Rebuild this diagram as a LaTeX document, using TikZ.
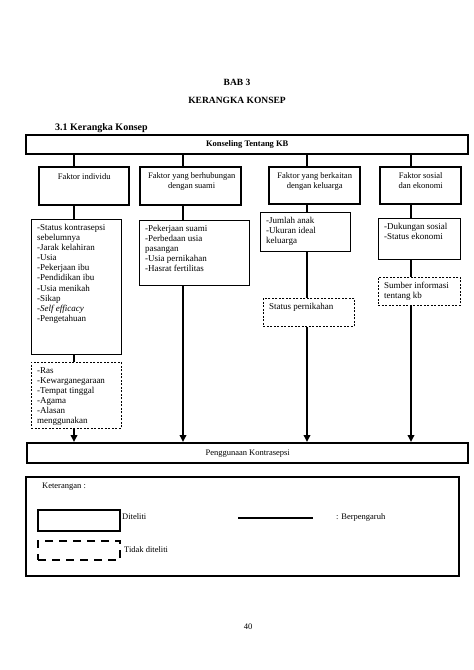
\documentclass[tikz,border=0pt]{standalone}
\usepackage{fontspec}
\setmainfont{Liberation Serif}
\usetikzlibrary{calc,arrows.meta}
\begin{document}
\begin{tikzpicture}[x=1pt,y=-1pt,
  thickbox/.style={draw, line width=2.4pt, inner sep=0pt, anchor=north west},
  listbox/.style={draw, line width=0.8pt, inner sep=0pt, anchor=north west},
  dashbox/.style={draw, line width=0.8pt, dash pattern=on 2pt off 1.5pt, inner sep=0pt, anchor=north west},
  legdash/.style={draw, line width=2.4pt, dash pattern=on 8pt off 6pt, inner sep=0pt, anchor=north west},
  txt/.style={inner sep=0pt, align=left, anchor=north west, font=\fontsize{9}{10.1}\selectfont},
  ctxt/.style={inner sep=0pt, align=center, anchor=north, font=\fontsize{8.5}{10.5}\selectfont},
  plain/.style={inner sep=0pt, font=\fontsize{8.5}{10}\selectfont},
  link/.style={line width=2.4pt},
  arr/.style={line width=2pt, -{Triangle[length=7pt,width=6.5pt]}},
]
\useasboundingbox (0,0) rectangle (474,670);

% headings
\node[inner sep=0pt, font=\fontsize{9.5}{11}\selectfont\bfseries] (bab) at (237,82) {BAB 3};
\node[inner sep=0pt, font=\fontsize{9.5}{11}\selectfont\bfseries] (kk) at (237,100) {KERANGKA KONSEP};
\node[inner sep=0pt, anchor=west, font=\fontsize{10}{12}\selectfont\bfseries] (sub) at (55,128) {3.1 Kerangka Konsep};

% top box
\node[thickbox, minimum width=442pt, minimum height=19pt] (top) at (25,134) {};
\node[inner sep=0pt, font=\fontsize{8.5}{10}\selectfont\bfseries] (topt) at (top.center) {Konseling Tentang KB};

% factor boxes
\node[thickbox, minimum width=90pt, minimum height=38pt] (f1) at (38,166) {};
\node[thickbox, minimum width=101pt, minimum height=38pt] (f2) at (139,166) {};
\node[thickbox, minimum width=91pt, minimum height=37pt] (f3) at (268,166) {};
\node[thickbox, minimum width=81pt, minimum height=37pt] (f4) at (379,166) {};
\node[ctxt] (f1t) at ($(f1.north)+(0pt,-7pt)$) {Faktor individu};
\node[ctxt] (f2t) at ($(f2.north)+(1pt,-6pt)$) {Faktor yang berhubungan\\dengan suami};
\node[ctxt] (f3t) at ($(f3.north)+(0pt,-6pt)$) {Faktor yang berkaitan\\dengan keluarga};
\node[ctxt] (f4t) at ($(f4.north)+(0pt,-6pt)$) {Faktor sosial\\dan ekonomi};

% list boxes
\node[listbox, minimum width=90pt, minimum height=135pt] (l1) at (31,219) {};
\node[listbox, minimum width=110pt, minimum height=65pt] (l2) at (139,220) {};
\node[listbox, minimum width=90pt, minimum height=39pt] (l3) at (260,212) {};
\node[listbox, minimum width=82pt, minimum height=41pt] (l4) at (378,218) {};
\node[txt] (l1t) at ($(l1.north west)+(6pt,-5pt)$) {-Status kontrasepsi\\sebelumnya\\-Jarak kelahiran\\-Usia\\-Pekerjaan ibu\\-Pendidikan ibu\\-Usia menikah\\-Sikap\\\textit{-Self efficacy}\\-Pengetahuan};
\node[txt] (l2t) at ($(l2.north west)+(6pt,-5pt)$) {-Pekerjaan suami\\-Perbedaan usia\\pasangan\\-Usia pernikahan\\-Hasrat fertilitas};
\node[txt] (l3t) at ($(l3.north west)+(6pt,-5pt)$) {-Jumlah anak\\-Ukuran ideal\\keluarga};
\node[txt] (l4t) at ($(l4.north west)+(6pt,-5pt)$) {-Dukungan sosial\\-Status ekonomi};

% dashed boxes
\node[dashbox, minimum width=90pt, minimum height=66pt] (d1) at (31,362) {};
\node[dashbox, minimum width=91pt, minimum height=28pt] (d3) at (263,298) {};
\node[dashbox, minimum width=82pt, minimum height=28pt] (d4) at (378,277) {};
\node[txt] (d1t) at ($(d1.north west)+(6pt,-5pt)$) {-Ras\\-Kewarganegaraan\\-Tempat tinggal\\-Agama\\-Alasan\\menggunakan};
\node[txt] (d3t) at ($(d3.north west)+(6pt,-5pt)$) {Status pernikahan};
\node[txt] (d4t) at ($(d4.north west)+(6pt,-5pt)$) {Sumber informasi\\tentang kb};

% bottom box
\node[thickbox, minimum width=441pt, minimum height=20pt] (bot) at (26,442) {};
\node[inner sep=0pt, font=\fontsize{8.5}{10}\selectfont] (bott) at (bot.center) {Penggunaan Kontrasepsi};

% column coordinates
\coordinate (c1) at (74,0);
\coordinate (c2) at (183,0);
\coordinate (c3) at (307,0);
\coordinate (c4) at (411,0);

% connectors
\draw[link] (top.south -| c1) -- (f1.north -| c1);
\draw[link] (top.south -| c2) -- (f2.north -| c2);
\draw[link] (top.south -| c3) -- (f3.north -| c3);
\draw[link] (top.south -| c4) -- (f4.north -| c4);
\draw[link] (f1.south -| c1) -- (l1.north -| c1);
\draw[link] (f2.south -| c2) -- (l2.north -| c2);
\draw[link] (f3.south -| c3) -- (l3.north -| c3);
\draw[link] (f4.south -| c4) -- (l4.north -| c4);
\draw[link] (l1.south -| c1) -- (d1.north -| c1);
\draw[link] (l3.south -| c3) -- (d3.north -| c3);
\draw[link] (l4.south -| c4) -- (d4.north -| c4);
\draw[arr] (d1.south -| c1) -- (bot.north -| c1);
\draw[arr] (l2.south -| c2) -- (bot.north -| c2);
\draw[arr] (d3.south -| c3) -- (bot.north -| c3);
\draw[arr] (d4.south -| c4) -- (bot.north -| c4);

% legend
\node[thickbox, minimum width=433pt, minimum height=99pt] (leg) at (25,476) {};
\node[plain, anchor=west] (ket) at (42,487) {Keterangan :};
\node[thickbox, minimum width=82pt, minimum height=21pt] (lsolid) at (37,509) {};
\node[legdash, minimum width=82pt, minimum height=19pt] (ldash) at (37,540) {};
\node[plain, anchor=west] (dit) at (122,517) {Diteliti};
\node[plain, anchor=west] (tdit) at (124,550) {Tidak diteliti};
\coordinate (la) at (238,518);
\coordinate (lb) at (313,518);
\draw[link] (la) -- (lb);
\node[plain, anchor=west] (berp) at (336,517) {: Berpengaruh};

% page number
\node[plain] (pg) at (248,627) {40};
\end{tikzpicture}
\end{document}
